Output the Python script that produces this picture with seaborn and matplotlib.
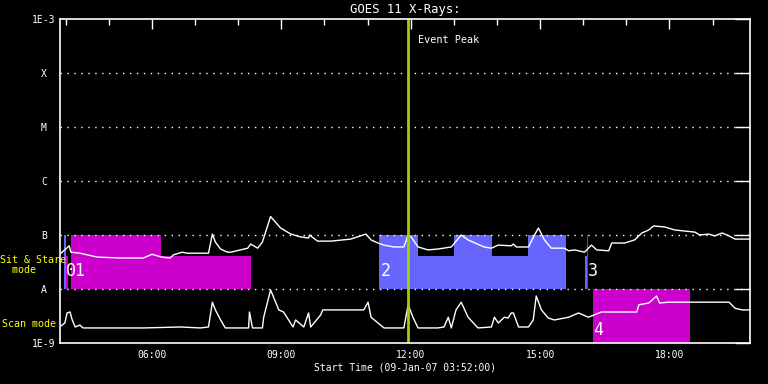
import numpy as np
import pandas as pd
import matplotlib
matplotlib.use("Agg")
import matplotlib.pyplot as plt
import seaborn as sns

# ---- data (hours of day, W/m^2) ----
long_t = [3.89, 4.08, 4.12, 4.33, 4.73, 5.26, 5.80, 6.00, 6.22, 6.42, 6.50, 6.70, 6.82, 7.31, 7.40, 7.47,
          7.59, 7.75, 7.82, 8.22, 8.29, 8.45, 8.56, 8.75, 8.98, 9.22, 9.45, 9.63, 9.65, 9.84, 10.15, 10.61,
          10.96, 11.08, 11.24, 11.38, 11.61, 11.84, 11.94, 12.01, 12.17, 12.40, 12.63, 12.94, 13.17, 13.33,
          13.70, 13.87, 14.03, 14.33, 14.38, 14.45, 14.73, 14.87, 14.96, 15.10, 15.26, 15.56, 15.66, 15.80,
          16.03, 16.19, 16.31, 16.59, 16.66, 16.96, 17.19, 17.36, 17.52, 17.63, 17.89, 18.12, 18.59, 18.70,
          18.91, 19.05, 19.22, 19.38, 19.52, 19.91]
long_f = [4.6e-8, 6.3e-8, 4.8e-8, 4.6e-8, 3.9e-8, 3.75e-8, 3.75e-8, 4.4e-8, 3.9e-8, 3.75e-8, 4.3e-8, 4.8e-8,
          4.6e-8, 4.6e-8, 1.04e-7, 7.4e-8, 5.5e-8, 4.8e-8, 4.8e-8, 5.7e-8, 6.8e-8, 5.7e-8, 7.4e-8, 2.2e-7,
          1.35e-7, 1.04e-7, 9.2e-8, 8.8e-8, 1.0e-7, 7.7e-8, 7.7e-8, 8.4e-8, 1.04e-7, 8.1e-8, 7.1e-8, 6.5e-8,
          6.0e-8, 6.0e-8, 1.0e-7, 9.2e-8, 6.0e-8, 5.3e-8, 5.5e-8, 6.0e-8, 1.0e-7, 8.1e-8, 6.0e-8, 5.7e-8,
          6.5e-8, 6.3e-8, 6.8e-8, 6.0e-8, 6.0e-8, 1.0e-7, 1.35e-7, 8.1e-8, 5.7e-8, 5.7e-8, 5.1e-8, 5.3e-8,
          4.8e-8, 6.5e-8, 5.3e-8, 5.1e-8, 7.1e-8, 7.1e-8, 8.1e-8, 1.09e-7, 1.24e-7, 1.47e-7, 1.41e-7,
          1.24e-7, 1.13e-7, 1.0e-7, 1.04e-7, 9.6e-8, 1.09e-7, 9.6e-8, 8.4e-8, 8.4e-8]

short_t = [3.89, 3.98, 4.03, 4.10, 4.15, 4.22, 4.33, 4.40, 5.80, 6.66, 7.12, 7.31, 7.40, 7.47, 7.59, 7.70,
           8.24, 8.26, 8.33, 8.56, 8.59, 8.75, 8.94, 9.05, 9.27, 9.33, 9.52, 9.63, 9.68, 9.91, 9.96, 10.22,
           10.91, 11.01, 11.08, 11.38, 11.84, 11.94, 12.05, 12.17, 12.63, 12.77, 12.87, 12.94, 13.05, 13.17,
           13.33, 13.56, 13.87, 13.94, 14.03, 14.17, 14.26, 14.33, 14.38, 14.50, 14.73, 14.84, 14.91, 15.03,
           15.19, 15.33, 15.66, 15.89, 16.12, 16.42, 17.24, 17.29, 17.52, 17.70, 17.77, 17.98, 19.38, 19.52,
           19.68, 19.91]
short_f = [2.07e-9, 2.35e-9, 3.6e-9, 3.75e-9, 2.67e-9, 1.98e-9, 2.15e-9, 1.9e-9, 1.9e-9, 1.98e-9, 1.9e-9,
           1.98e-9, 5.7e-9, 4.1e-9, 2.67e-9, 1.9e-9, 1.9e-9, 3.75e-9, 1.9e-9, 1.9e-9, 3.0e-9, 9.6e-9, 4.1e-9,
           3.75e-9, 1.98e-9, 2.67e-9, 1.98e-9, 3.6e-9, 1.98e-9, 3.3e-9, 4.1e-9, 4.1e-9, 4.1e-9, 5.7e-9,
           3.0e-9, 1.9e-9, 1.9e-9, 5.1e-9, 3.0e-9, 1.9e-9, 1.9e-9, 1.98e-9, 3.0e-9, 1.9e-9, 4.1e-9, 5.7e-9,
           3.0e-9, 1.9e-9, 1.98e-9, 3.0e-9, 2.35e-9, 3.0e-9, 2.9e-9, 3.6e-9, 3.6e-9, 1.98e-9, 1.98e-9,
           2.67e-9, 7.4e-9, 4.1e-9, 2.9e-9, 2.67e-9, 3.0e-9, 3.6e-9, 3.0e-9, 3.75e-9, 3.75e-9, 5.1e-9,
           5.5e-9, 7.4e-9, 5.5e-9, 5.7e-9, 5.7e-9, 4.4e-9, 4.1e-9, 4.1e-9]

# observation blocks
blk_start = [3.96, 4.01, 4.12, 6.22, 11.26, 12.17, 13.01, 13.89, 14.73, 16.03, 16.08, 16.22]
blk_end   = [4.01, 4.05, 6.22, 8.29, 12.17, 13.01, 13.89, 14.73, 15.61, 16.08, 16.12, 18.47]
blk_low   = [1e-8, 1e-8, 1e-8, 1e-8, 1e-8, 1e-8, 1e-8, 1e-8, 1e-8, 1e-8, 1e-8, 1e-9]
blk_high  = [1e-7, 4.1e-8, 1e-7, 4.1e-8, 1e-7, 4.1e-8, 1e-7, 4.1e-8, 1e-7, 4.1e-8, 1e-7, 1e-8]
blk_color = ["#6666ff", "#cc00cc", "#cc00cc", "#cc00cc", "#6666ff", "#6666ff", "#6666ff", "#6666ff",
             "#6666ff", "#6666ff", "#cc00cc", "#cc00cc"]

lab_text = ["0", "1", "2", "3", "4"]
lab_t    = [4.00, 4.20, 11.30, 16.10, 16.24]
lab_f    = [2.2e-8, 2.2e-8, 2.2e-8, 2.2e-8, 1.75e-9]

event_peak = 11.93
level_vals = [1e-9, 1e-8, 1e-7, 1e-6, 1e-5, 1e-4, 1e-3]
level_labels = ["1E-9", "A", "B", "C", "M", "X", "1E-3"]
grid_levels = [1e-8, 1e-7, 1e-6, 1e-5, 1e-4]
xtick_vals = [6, 9, 12, 15, 18]
xtick_labels = ["06:00", "09:00", "12:00", "15:00", "18:00"]
t_start, t_end = 3.8667, 19.8667

# ---- figure ----
sns.set_style("dark")
plt.rcParams["font.family"] = ["DejaVu Sans Mono"]
fig = plt.figure(figsize=(7.68, 3.84), dpi=100, facecolor="black")
ax = fig.add_axes([60/768, 41/384, 690/768, 324/384])
ax.set_facecolor("black")

for s, e, lo, hi, c in zip(blk_start, blk_end, blk_low, blk_high, blk_color):
    ax.bar(s, hi - lo, width=e - s, bottom=lo, align="edge", color=c, linewidth=0)

for g in grid_levels:
    ax.axhline(g, color="white", lw=1.0, ls=(0, (1, 4)))

df_long = pd.DataFrame({"t": long_t, "f": long_f})
df_short = pd.DataFrame({"t": short_t, "f": short_f})
sns.lineplot(data=df_long, x="t", y="f", ax=ax, color="white", lw=1.0)
sns.lineplot(data=df_short, x="t", y="f", ax=ax, color="white", lw=1.0)

ax.axvline(event_peak, color="#a0d000", lw=2)
ax.text(event_peak + 0.23, 4e-4, "Event Peak", color="white", fontsize=7.3, va="center")

for t, f, s in zip(lab_t, lab_f, lab_text):
    ax.text(t, f, s, color="white", fontsize=12, va="center", ha="left")

ax.set_yscale("log")
ax.set_ylim(1e-9, 1e-3)
ax.set_xlim(t_start, t_end)
ax.set_yticks(level_vals)
ax.set_yticklabels(level_labels)
ax.yaxis.set_minor_locator(matplotlib.ticker.NullLocator())
ax.set_xticks(xtick_vals)
ax.set_xticklabels(xtick_labels)
ax.set_xticks(np.arange(4, 20, 1), minor=True)

ax.tick_params(axis="both", which="both", colors="white", direction="in", labelsize=7,
               top=True, right=True, labelcolor="white")
ax.tick_params(axis="x", which="major", length=7, width=1, pad=5)
ax.tick_params(axis="x", which="minor", length=4, width=1)
ax.tick_params(axis="y", which="major", length=10.5, width=1, pad=11.5)
for lbl in ax.get_yticklabels():
    lbl.set_horizontalalignment("center")
for sp in ax.spines.values():
    sp.set_color("white")
    sp.set_linewidth(1.2)
ax.grid(False)

ax.set_xlabel("Start Time (09-Jan-07 03:52:00)", color="white", fontsize=7, labelpad=2)
ax.set_ylabel("")
ax.set_title("GOES 11 X-Rays:", color="white", fontsize=8.8, pad=4)

fig.text(0.0, 1 - 265/384, "Sit & Stare\n  mode", color="yellow", fontsize=7.2,
         ha="left", va="center", linespacing=1.1)
fig.text(2/768, 1 - 324/384, "Scan mode", color="yellow", fontsize=7.2, ha="left", va="center")

fig.savefig("out.png", dpi=100, facecolor="black")
